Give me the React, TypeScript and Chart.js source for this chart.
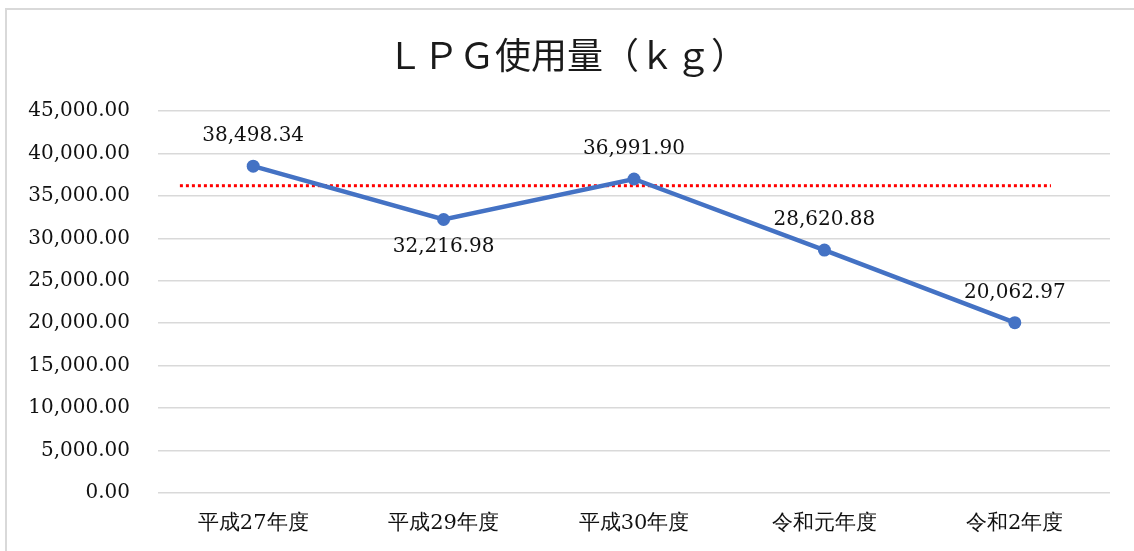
import React, { useEffect, useRef } from "react";
import { Chart, registerables } from "chart.js";

Chart.register(...registerables);

const categories = ["平成27年度", "平成29年度", "平成30年度", "令和元年度", "令和2年度"];
const usage = [38498.34, 32216.98, 36991.9, 28620.88, 20062.97];
const referenceValue = 36200;
const referenceSpan = [0.023, 0.938];
const labelBelow = [false, true, false, false, false];
const titleText = "ＬＰＧ使用量（ｋｇ）";

const fmt = (v: number) =>
  v.toLocaleString("en-US", { minimumFractionDigits: 2, maximumFractionDigits: 2 });

const SERIF = "DejaVu Serif";

const dataLabelPlugin = {
  id: "dataLabels",
  afterDatasetsDraw(chart: any) {
    const meta = chart.getDatasetMeta(0);
    const ctx = chart.ctx;
    ctx.save();
    ctx.font = `20px ${SERIF}`;
    ctx.fillStyle = "#111";
    ctx.textAlign = "center";
    ctx.textBaseline = "middle";
    meta.data.forEach((pt: any, i: number) => {
      const dy = labelBelow[i] ? 27 : -30;
      ctx.fillText(fmt(usage[i]), pt.x, pt.y + dy);
    });
    ctx.restore();
  },
};

export default function App() {
  const ref = useRef<HTMLCanvasElement>(null);
  useEffect(() => {
    if (!ref.current) return;
    const chart = new Chart(ref.current, {
      type: "line",
      data: {
        labels: categories,
        datasets: [
          {
            data: usage,
            borderColor: "#4472C4",
            backgroundColor: "#4472C4",
            borderWidth: 4.5,
            pointRadius: 6.5,
            pointBackgroundColor: "#4472C4",
            pointBorderWidth: 0,
            tension: 0,
            xAxisID: "x",
            order: 1,
          },
          {
            data: [
              { x: referenceSpan[0], y: referenceValue },
              { x: referenceSpan[1], y: referenceValue },
            ] as any,
            borderColor: "#FF0000",
            borderWidth: 3,
            borderDash: [3, 3],
            borderCapStyle: "butt",
            pointRadius: 0,
            xAxisID: "x2",
            order: 2,
          },
        ],
      },
      options: {
        responsive: false,
        animation: false,
        layout: { padding: { left: 24, right: 24, top: 0, bottom: 0 } },
        plugins: {
          legend: { display: false },
          tooltip: { enabled: false },
          title: {
            display: true,
            text: titleText,
            color: "#1a1a1a",
            font: { family: "Noto Sans CJK JP", size: 36, weight: "normal" },
            padding: { top: 33.4, bottom: 34.4 },
          },
        },
        scales: {
          x: {
            type: "category",
            offset: true,
            grid: { display: false, drawTicks: false },
            border: { display: false },
            ticks: { color: "#111", font: { family: SERIF, size: 21 }, padding: 18 },
            afterFit: (s: any) => {
              s.height = 58;
            },
          },
          x2: {
            type: "linear",
            display: false,
            min: 0,
            max: 1,
          },
          y: {
            min: 0,
            max: 45000,
            ticks: {
              stepSize: 5000,
              color: "#111",
              font: { family: SERIF, size: 20 },
              padding: 28,
              callback: (v: any) => fmt(Number(v)),
            },
            grid: { color: "#d9d9d9", lineWidth: 1.5, drawTicks: false },
            border: { display: false },
            afterFit: (s: any) => {
              s.width = 134;
            },
          },
        },
      },
      plugins: [dataLabelPlugin],
    } as any);
    return () => chart.destroy();
  }, []);

  return (
    <div style={{ position: "fixed", left: 0, top: 0, width: 1134, height: 551, background: "#fff" }}>
      <div
        style={{
          position: "absolute",
          left: 5,
          top: 8,
          width: 1140,
          height: 560,
          border: "2px solid #d9d9d9",
          boxSizing: "border-box",
        }}
      />
      <canvas ref={ref} width={1134} height={551} style={{ position: "absolute", left: 0, top: 0 }} />
    </div>
  );
}
